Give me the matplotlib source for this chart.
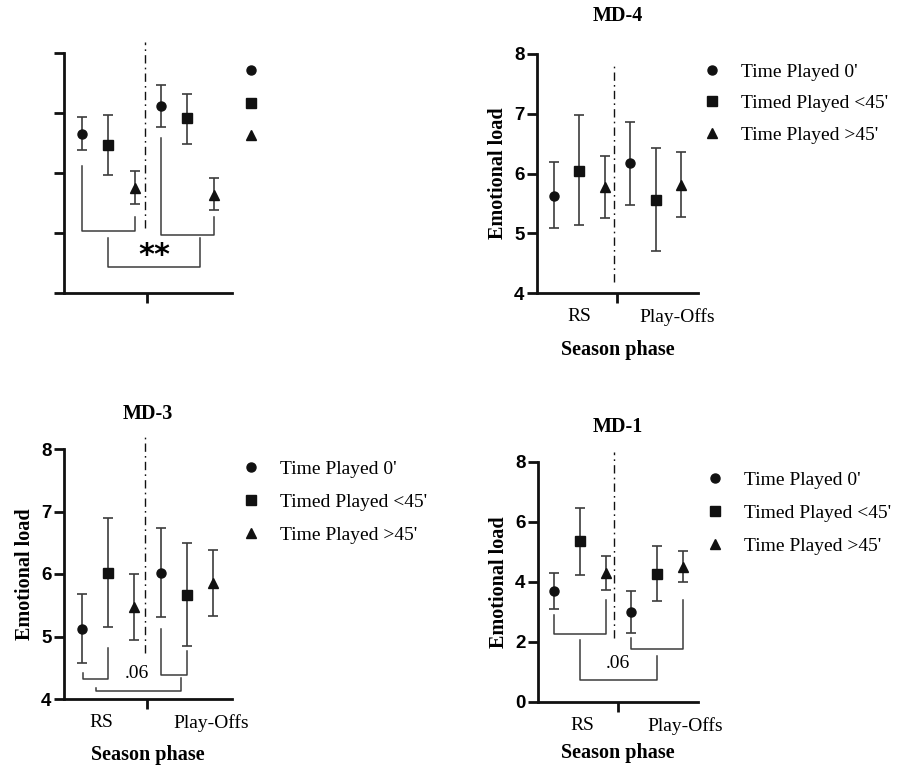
import matplotlib
matplotlib.use('Agg')
import matplotlib.pyplot as plt
from matplotlib.lines import Line2D

W, H = 907, 767

groups = ["Time Played 0'", "Timed Played <45'", "Time Played >45'"]
phases = ["RS", "Play-Offs"]

# order: RS (0', <45', >45'), Play-Offs (0', <45', >45')
a_mean = [6.65, 6.46, 5.75, 7.11, 6.91, 5.64]
a_low = [6.38, 5.96, 5.49, 6.76, 6.49, 5.39]
a_high = [6.93, 6.96, 6.03, 7.46, 7.32, 5.92]

md4_mean = [5.63, 6.05, 5.77, 6.17, 5.55, 5.80]
md4_low = [5.08, 5.13, 5.25, 5.48, 4.70, 5.28]
md4_high = [6.20, 6.98, 6.30, 6.86, 6.42, 6.36]

md3_mean = [5.12, 6.02, 5.47, 6.02, 5.67, 5.85]
md3_low = [4.58, 5.15, 4.95, 5.32, 4.85, 5.33]
md3_high = [5.68, 6.90, 6.00, 6.74, 6.50, 6.38]

md1_mean = [3.70, 5.37, 4.29, 2.99, 4.28, 4.51]
md1_low = [3.09, 4.23, 3.73, 2.29, 3.38, 4.01]
md1_high = [4.29, 6.48, 4.88, 3.70, 5.20, 5.04]

a_yticks = [4, 5, 6, 7, 8]
md4_yticks = [4, 5, 6, 7, 8]
md3_yticks = [4, 5, 6, 7, 8]
md1_yticks = [0, 2, 4, 6, 8]

# brackets: (x_left, y_left_top, y_bottom, x_right, y_right_top)
a_brackets = [(0, 6.11, 5.03, 2, 5.27), (3, 6.58, 4.97, 5, 5.27), (1, 4.91, 4.43, 4.47, 4.91)]
md3_brackets = [(0.04, 4.42, 4.32, 1.0, 4.82), (3.0, 5.12, 4.38, 4.0, 4.77), (0.53, 4.18, 4.13, 3.78, 4.34)]
md1_brackets = [(0, 2.9, 2.27, 2, 3.4), (3, 2.13, 1.76, 5, 3.4), (1, 2.07, 0.74, 4, 1.54)]

markers = ['o', 's', '^']
SERIF = 'Liberation Serif'
SANS = 'Liberation Sans'
ECOL = '#3c3c3c'

fig = plt.figure(figsize=(W / 100, H / 100), dpi=100)


def px_axes(l, r, t, b):
    return fig.add_axes([l / W, 1 - b / H, (r - l) / W, (b - t) / H])


def panel(ax, mean, low, high, yticks, xlim, dash, labels_x, title=None, title_pad=22,
          xlabel_pad=10, show_labels=True):
    xs = list(range(len(mean)))
    for i, x in enumerate(xs):
        ax.errorbar([x], [mean[i]], yerr=[[mean[i] - low[i]], [high[i] - mean[i]]],
                    fmt=markers[i % 3], color='#111111', ecolor=ECOL, elinewidth=1.2,
                    capsize=3.5, capthick=1.2, markersize=6.5, clip_on=False, zorder=3)
    ax.set_xlim(*xlim)
    ax.set_ylim(yticks[0], yticks[-1])
    ax.set_yticks(yticks)
    for s in ['top', 'right']:
        ax.spines[s].set_visible(False)
    for s in ['left', 'bottom']:
        ax.spines[s].set_linewidth(2)
        ax.spines[s].set_color('#111111')
    ax.tick_params(axis='y', length=7, width=2, color='#111111', pad=2)
    ax.set_xticks([2.47])
    ax.set_xticklabels([''])
    ax.tick_params(axis='x', which='major', length=7, width=2, color='#111111')
    ax.plot([dash[0], dash[0]], [dash[1], dash[2]], color='#111111', lw=1.0,
            linestyle=(0, (6, 3, 1.2, 3)), clip_on=False, zorder=2)
    if show_labels:
        ax.set_yticklabels([str(t) for t in yticks], fontfamily=SANS, fontweight='bold', fontsize=13.5)
        ax.set_xticks(labels_x, minor=True)
        ax.set_xticklabels(phases, minor=True, fontfamily=SERIF, fontsize=14)
        ax.tick_params(axis='x', which='minor', length=0, pad=11)
        ax.set_ylabel('Emotional load', fontfamily=SERIF, fontweight='bold', fontsize=14.5, labelpad=4)
        ax.set_xlabel('Season phase', fontfamily=SERIF, fontweight='bold', fontsize=14.5, labelpad=xlabel_pad)
        if title:
            ax.set_title(title, fontfamily=SERIF, fontweight='bold', fontsize=14.5, pad=title_pad)
    else:
        ax.set_yticklabels(['' for _ in yticks])


def brackets(ax, br):
    for (x1, y1, yb, x2, y2) in br:
        ax.plot([x1, x1, x2, x2], [y1, yb, yb, y2], color=ECOL, lw=1.1, clip_on=False, zorder=2)


def legend(ax, x_px, y_px, labels, spacing=0.75):
    handles = [Line2D([], [], marker=m, linestyle='none', color='#111111', markersize=6.5) for m in markers]
    ax.legend(handles, labels, loc='upper left', bbox_to_anchor=(x_px / W, 1 - y_px / H),
              bbox_transform=fig.transFigure, frameon=False, borderpad=0, borderaxespad=0,
              handlelength=1.0, handletextpad=1.0, labelspacing=spacing, numpoints=1,
              prop={'family': SERIF, 'size': 14})


# top-left (cropped panel)
axA = px_axes(64, 232, 53, 293)
panel(axA, a_mean, a_low, a_high, a_yticks, (-0.69, 5.7), (2.4, 5.08, 8.19), None, show_labels=False)
brackets(axA, a_brackets)
axA.text(2.74, 4.62, '**', fontsize=22, fontfamily='DejaVu Sans', fontweight='bold', ha='center', va='center')
legend(axA, 241, 63, [' ', ' ', ' '], spacing=0.78)

# MD-4
ax4 = px_axes(537, 698, 54, 293)
panel(ax4, md4_mean, md4_low, md4_high, md4_yticks, (-0.67, 5.67), (2.36, 4.18, 7.87), [1.0, 4.84],
      title='MD-4', title_pad=24)
legend(ax4, 702, 63, groups, spacing=0.72)

# MD-3
ax3 = px_axes(64, 232, 449, 699)
panel(ax3, md3_mean, md3_low, md3_high, md3_yticks, (-0.69, 5.73), (2.4, 4.73, 8.25), [0.72, 4.95],
      title='MD-3', title_pad=21.5, xlabel_pad=9)
brackets(ax3, md3_brackets)
ax3.text(2.1, 4.41, '.06', fontsize=14, fontfamily=SERIF, ha='center', va='center')
legend(ax3, 241, 460, groups, spacing=0.8)

# MD-1
ax1 = px_axes(538, 698, 462, 702)
panel(ax1, md1_mean, md1_low, md1_high, md1_yticks, (-0.62, 5.58), (2.33, 2.13, 8.33), [1.1, 5.08],
      title='MD-1', title_pad=21.5, xlabel_pad=6)
brackets(ax1, md1_brackets)
ax1.text(2.48, 1.3, '.06', fontsize=14, fontfamily=SERIF, ha='center', va='center')
legend(ax1, 705, 471, groups, spacing=0.8)

fig.savefig('out.png', dpi=100)
